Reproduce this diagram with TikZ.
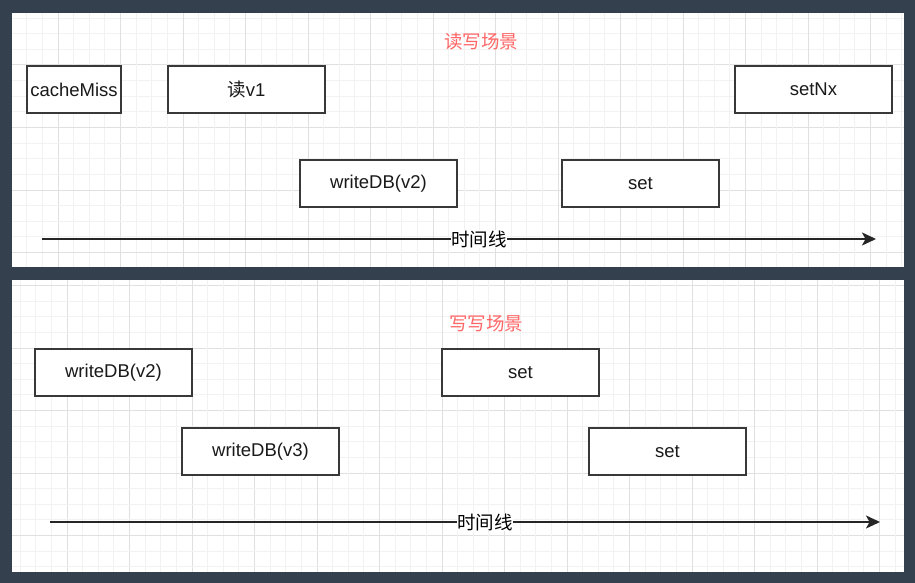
\documentclass[tikz,border=0pt]{standalone}
\usepackage{fontspec}
\setmainfont{Liberation Sans}
\newfontfamily\cjk{Noto Sans CJK SC}
\usepackage{xcolor}
\usetikzlibrary{arrows.meta, positioning}
\definecolor{bgdark}{HTML}{34404D}
\definecolor{gridminor}{HTML}{F2F2F2}
\definecolor{gridmajor}{HTML}{E0E0E0}
\definecolor{boxline}{HTML}{383838}
\definecolor{titlered}{HTML}{FF6666}

\begin{document}
\begin{tikzpicture}[
    x=1pt, y=-1pt,
    box/.style={draw=boxline, line width=1.9pt, fill=white, anchor=north west, minimum width=157pt, minimum height=47pt, inner sep=0pt, text=black!90, font=\fontsize{18.5}{20}\selectfont},
    ttl/.style={text=titlered, font=\cjk\fontsize{18.5}{20}\selectfont},
    lbl/.style={fill=white, inner sep=0.5pt, font=\cjk\fontsize{18.5}{20}\selectfont},
    arr/.style={line width=1.6pt, draw=black!85, -{Stealth[length=14pt, width=13pt, inset=3.5pt]}}
]
% background and panels
\fill[bgdark] (0,0) rectangle (915,583);
\fill[white] (12,13) rectangle (904,267);
\fill[white] (12,280) rectangle (904,572);

% grid of the upper panel
\begin{scope}
\clip (12,13) rectangle (904,267);
\foreach \k in {-4,...,60}{
    \pgfmathtruncatemacro{\m}{mod(\k+100,4)}
    \ifnum\m=0 \def\gc{gridmajor}\else\def\gc{gridminor}\fi
    \draw[\gc, line width=1pt] ({58+\k*15.625},13) -- ({58+\k*15.625},267);
    \draw[\gc, line width=1pt] (12,{65+\k*15.625}) -- (904,{65+\k*15.625});
}
\end{scope}

% grid of the lower panel
\begin{scope}
\clip (12,280) rectangle (904,572);
\foreach \k in {-4,...,60}{
    \pgfmathtruncatemacro{\m}{mod(\k+100,4)}
    \ifnum\m=0 \def\gc{gridmajor}\else\def\gc{gridminor}\fi
    \draw[\gc, line width=1pt] ({67+\k*15.625},280) -- ({67+\k*15.625},572);
    \draw[\gc, line width=1pt] (12,{285.5+\k*15.625}) -- (904,{285.5+\k*15.625});
}
\end{scope}

% read/write scene
\node[ttl] (rwtitle) at (481,42) {读写场景};
\node[box, minimum width=94pt] (miss) at (26,65) {cacheMiss};
\node[box] (readv1) at (167,65) {{\cjk 读}v1};
\node[box] (setnx) at (734,65) {setNx};
\node[box] (rwdb) at (299,159) {writeDB(v2)};
\node[box] (rwset) at (561,159) {set};

\coordinate (rwstart) at (42,239);
\coordinate (rwend) at (876,239);
\draw[arr] (rwstart) -- (rwend);
\node[lbl] (rwtime) at (479,239) {时间线};

% write/write scene
\node[ttl] (wwtitle) at (486,324) {写写场景};
\node[box] (wwdbtwo) at (34,348) {writeDB(v2)};
\node[box] (wwsetone) at (441,348) {set};
\node[box] (wwdbthree) at (181,427) {writeDB(v3)};
\node[box] (wwsettwo) at (588,427) {set};

\coordinate (wwstart) at (50,522);
\coordinate (wwend) at (880,522);
\draw[arr] (wwstart) -- (wwend);
\node[lbl] (wwtime) at (485,522) {时间线};
\end{tikzpicture}
\end{document}
